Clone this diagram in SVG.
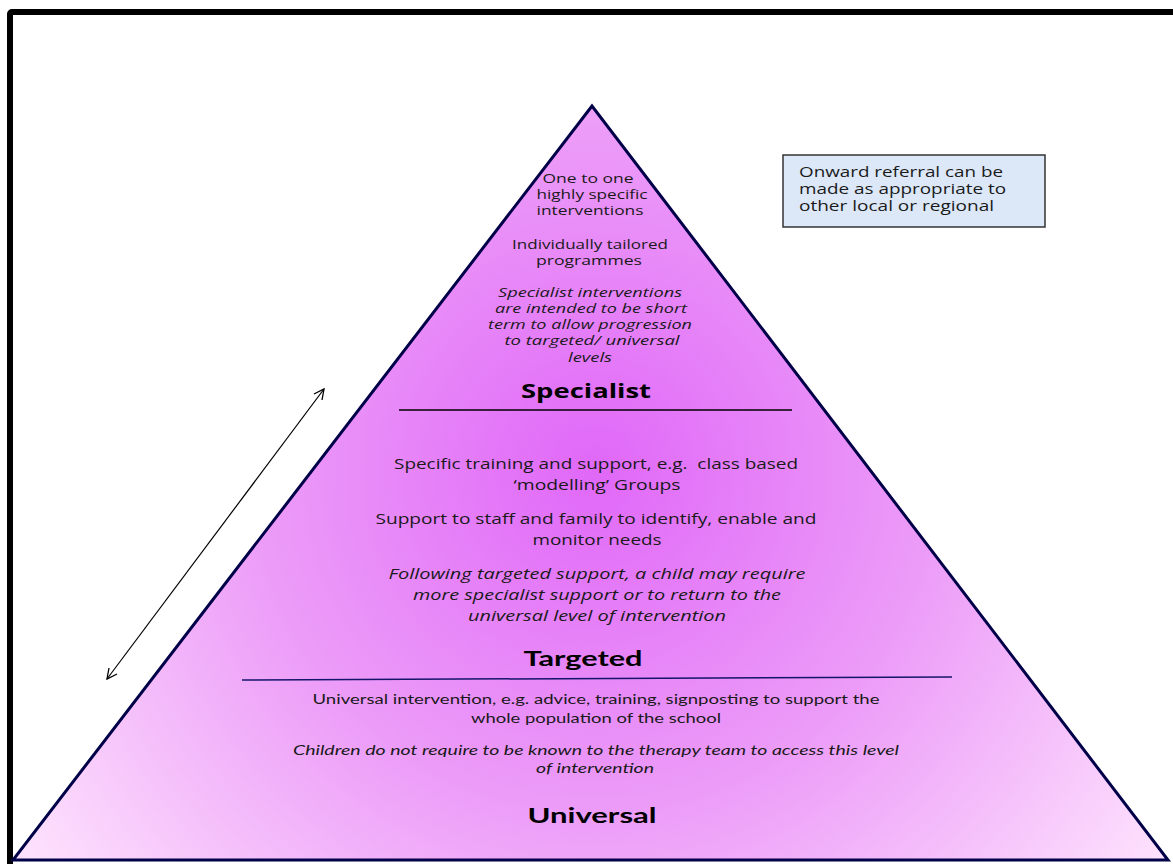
<svg xmlns="http://www.w3.org/2000/svg" width="1173" height="864" viewBox="0 0 1173 864">
<defs>
<radialGradient id="pyr" gradientUnits="userSpaceOnUse" cx="595" cy="470" r="680">
<stop offset="0" stop-color="#e068f8"/>
<stop offset="0.5" stop-color="#ec9cf8"/>
<stop offset="1" stop-color="#fde0fd"/>
</radialGradient>
<marker id="ah" viewBox="0 0 12 12" refX="11" refY="6" markerWidth="12" markerHeight="12" markerUnits="userSpaceOnUse" orient="auto-start-reverse">
<path d="M1,1 L11,6 L1,11" fill="none" stroke="#000" stroke-width="1.3"/>
</marker>
<style>
.u{font-family:"Open Sans","Noto Sans",sans-serif;font-size:13.5px;fill:#1a1a1a;text-anchor:middle}
.m{font-family:"Open Sans","Noto Sans",sans-serif;font-size:14.5px;fill:#1a1a1a;text-anchor:middle}
.l{font-family:Lato,"Liberation Sans",sans-serif;font-size:13.5px;fill:#1a1a1a;text-anchor:middle}
.i{font-style:italic}
.h{font-family:"Open Sans","Noto Sans",sans-serif;font-size:20px;font-weight:bold;fill:#000;text-anchor:middle}
.hl{font-family:Lato,"Liberation Sans",sans-serif;font-size:21px;font-weight:bold;fill:#000;text-anchor:middle}
.b{font-family:"Open Sans","Noto Sans",sans-serif;font-size:14px;fill:#1a1a1a}
</style>
</defs>
<rect width="1173" height="864" fill="#fff"/>
<rect x="10" y="12" width="1200" height="900" rx="2" fill="none" stroke="#000" stroke-width="6"/>
<g id="pyramid">
<polygon points="592,106 13,860 1168,860" fill="url(#pyr)" stroke="#000048" stroke-width="3" stroke-linejoin="miter"/>
</g>
<g id="specialist">
<text class="u" x="588" y="183" textLength="91" lengthAdjust="spacingAndGlyphs">One to one</text>
<text class="u" x="592" y="199" textLength="111" lengthAdjust="spacingAndGlyphs">highly specific</text>
<text class="u" x="590" y="215" textLength="107" lengthAdjust="spacingAndGlyphs">interventions</text>
<text class="u" x="590" y="249" textLength="156" lengthAdjust="spacingAndGlyphs">Individually tailored</text>
<text class="u" x="589" y="265" textLength="106" lengthAdjust="spacingAndGlyphs">programmes</text>
<text class="u i" x="590" y="297" textLength="184" lengthAdjust="spacingAndGlyphs">Specialist interventions</text>
<text class="u i" x="591" y="313" textLength="192" lengthAdjust="spacingAndGlyphs">are intended to be short</text>
<text class="u i" x="590" y="329" textLength="204" lengthAdjust="spacingAndGlyphs">term to allow progression</text>
<text class="u i" x="592" y="345" textLength="175" lengthAdjust="spacingAndGlyphs">to targeted/ universal</text>
<text class="u i" x="590" y="362" textLength="44" lengthAdjust="spacingAndGlyphs">levels</text>
<text class="h" x="586" y="398" textLength="130" lengthAdjust="spacingAndGlyphs">Specialist</text>
</g>
<g id="targeted">
<text class="m" x="596" y="469" textLength="404" lengthAdjust="spacingAndGlyphs">Specific training and support, e.g.&#160; class based</text>
<text class="m" x="597" y="490" textLength="167" lengthAdjust="spacingAndGlyphs">‘modelling’ Groups</text>
<text class="m" x="596" y="524" textLength="441" lengthAdjust="spacingAndGlyphs">Support to staff and family to identify, enable and</text>
<text class="m" x="597" y="545" textLength="129" lengthAdjust="spacingAndGlyphs">monitor needs</text>
<text class="m i" x="597" y="579" textLength="417" lengthAdjust="spacingAndGlyphs">Following targeted support, a child may require</text>
<text class="m i" x="597" y="600" textLength="368" lengthAdjust="spacingAndGlyphs">more specialist support or to return to the</text>
<text class="m i" x="597" y="621" textLength="258" lengthAdjust="spacingAndGlyphs">universal level of intervention</text>
<text class="hl" x="583" y="666" textLength="119" lengthAdjust="spacingAndGlyphs">Targeted</text>
</g>
<g id="universal">
<text class="l" x="596" y="704" textLength="567" lengthAdjust="spacingAndGlyphs">Universal intervention, e.g. advice, training, signposting to support the</text>
<text class="l" x="596" y="723" textLength="250" lengthAdjust="spacingAndGlyphs">whole population of the school</text>
<text class="l i" x="596" y="755" textLength="606" lengthAdjust="spacingAndGlyphs">Children do not require to be known to the therapy team to access this level</text>
<text class="l i" x="595" y="773" textLength="118" lengthAdjust="spacingAndGlyphs">of intervention</text>
<text class="hl" x="592" y="823" textLength="129" lengthAdjust="spacingAndGlyphs">Universal</text>
</g>
<g id="referral-box">
<rect x="783" y="155" width="262" height="72" fill="#dce8f8" stroke="#333" stroke-width="1.5"/>
<text class="b" x="799" y="177" textLength="204" lengthAdjust="spacingAndGlyphs">Onward referral can be</text>
<text class="b" x="799" y="194" textLength="207" lengthAdjust="spacingAndGlyphs">made as appropriate to</text>
<text class="b" x="799" y="211" textLength="195" lengthAdjust="spacingAndGlyphs">other local or regional</text>
</g>
<g id="connectors">
<line x1="399" y1="410" x2="792" y2="410" stroke="#000" stroke-width="1.3"/>
<line x1="242" y1="680" x2="952" y2="677" stroke="#14146a" stroke-width="1.5"/>
<line x1="107" y1="679" x2="324" y2="389" stroke="#000" stroke-width="1.2" marker-start="url(#ah)" marker-end="url(#ah)"/>
</g>
</svg>
